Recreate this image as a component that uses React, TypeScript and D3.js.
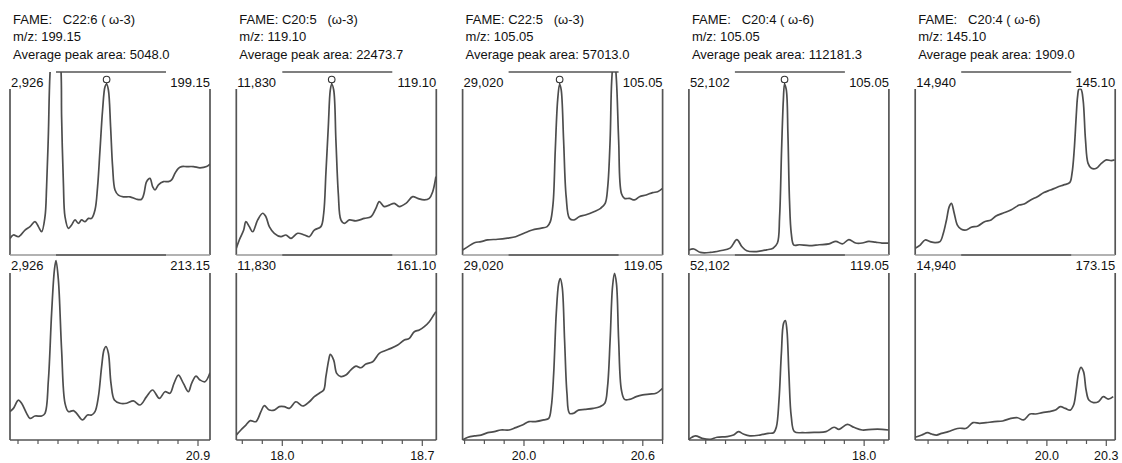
import * as d3 from 'd3';

type Pt = [number, number];

// header texts, one entry per FAME panel
const fameLabels = ['FAME:   C22:6 ( ω-3)', 'FAME: C20:5   (ω-3)', 'FAME: C22:5   (ω-3)', 'FAME:   C20:4 ( ω-6)', 'FAME:   C20:4 ( ω-6)'];
const targetMz = ['199.15', '119.10', '105.05', '105.05', '145.10'];
const qualifierMz = ['213.15', '161.10', '119.05', '119.05', '173.15'];
const peakAreas = ['5048.0', '22473.7', '57013.0', '112181.3', '1909.0'];
const fullScale = ['2,926', '11,830', '29,020', '52,102', '14,940'];

// retention time windows (min) and labelled ticks
const timeWindows: Pt[] = [[19.96, 20.96], [17.77, 18.77], [19.69, 20.7], [17.115, 18.125], [19.335, 20.345]];
const timeLabels = [['20.9'], ['18.0', '18.7'], ['20.0', '20.6'], ['18.0'], ['20.0', '20.3']];
const markedPeaks = [20.443, 18.247, 20.18, 17.598, null];

// traces: [time (min), intensity (% of full scale)]
const c226Target: Pt[] = [[19.96,9.7],[19.977,11.7],[20.002,10.7],[20.035,14.6],[20.06,16.6],[20.085,19.5],[20.102,16.6],[20.118,13.6],[20.135,22.4],[20.143,40],[20.152,71],[20.16,106],[20.187,150],[20.215,108],[20.218,81],[20.227,42],[20.235,22.4],[20.252,15.6],[20.268,17.5],[20.285,20.5],[20.302,18.5],[20.318,20.5],[20.335,19.5],[20.352,21.4],[20.368,21.4],[20.385,26.3],[20.398,40],[20.41,61.4],[20.423,84.8],[20.435,98.4],[20.443,100],[20.452,96.5],[20.463,75],[20.473,51.7],[20.485,38],[20.502,35],[20.527,34],[20.56,34],[20.593,32.6],[20.618,32.6],[20.63,36],[20.643,42.9],[20.66,44.8],[20.673,40],[20.685,38],[20.702,41],[20.727,42.9],[20.752,42.9],[20.768,43.9],[20.785,47.8],[20.802,50.7],[20.818,51.7],[20.843,51.7],[20.877,51.7],[20.91,51],[20.943,51.7],[20.96,53.2]];
const c226Qual: Pt[] = [[19.96,16.7],[19.977,18.6],[20.002,23.5],[20.018,21.6],[20.043,15.7],[20.06,12.7],[20.085,14.1],[20.118,14.1],[20.135,15.7],[20.152,35.3],[20.168,74.5],[20.182,100],[20.19,105.5],[20.202,94],[20.218,53],[20.235,21.6],[20.252,16.7],[20.277,17.3],[20.293,15.7],[20.323,11.8],[20.347,14.7],[20.368,14.7],[20.385,16.7],[20.402,25.5],[20.418,43],[20.43,53],[20.44,55],[20.452,51],[20.465,33.3],[20.482,23.5],[20.51,21.6],[20.543,21.6],[20.577,23],[20.61,20.6],[20.643,25.5],[20.673,29.4],[20.707,24.5],[20.735,28.4],[20.76,27.5],[20.78,33.3],[20.802,38.2],[20.827,33.3],[20.852,28.4],[20.868,33.3],[20.89,37.6],[20.91,35.3],[20.935,34.3],[20.96,39.6]];

const c205Target: Pt[] = [[17.77,3.9],[17.785,8.8],[17.807,14.6],[17.818,19.5],[17.835,16.6],[17.852,13.6],[17.877,20.5],[17.902,24.4],[17.918,22.4],[17.935,16.6],[17.96,12.7],[17.993,10.7],[18.018,11.7],[18.043,9.7],[18.077,12.7],[18.11,11.7],[18.135,10.7],[18.16,14.6],[18.193,16.6],[18.207,24.4],[18.218,47.8],[18.23,75],[18.24,96.5],[18.247,100],[18.257,96.5],[18.268,67.3],[18.28,36],[18.293,20.5],[18.31,18.5],[18.335,20.5],[18.368,20],[18.41,21.4],[18.443,22.4],[18.468,27.3],[18.485,31.2],[18.51,28.3],[18.535,29.2],[18.56,30.2],[18.585,28.3],[18.618,30.2],[18.652,34.1],[18.677,33.1],[18.71,32.2],[18.735,33.1],[18.752,37],[18.768,45.8]];
const c205Qual: Pt[] = [[17.77,2.9],[17.793,5.9],[17.818,8.8],[17.84,11.4],[17.868,10.8],[17.893,16.7],[17.91,20.2],[17.935,17.6],[17.96,17.6],[17.985,19.6],[18.01,19.6],[18.035,18.6],[18.068,22.5],[18.102,20],[18.135,22.5],[18.16,25.5],[18.185,27.5],[18.207,29.4],[18.218,37.3],[18.232,47],[18.24,50.4],[18.257,47],[18.272,39.2],[18.293,37.3],[18.318,38.2],[18.343,41.2],[18.368,43.5],[18.393,42.5],[18.418,44.7],[18.452,46],[18.485,51],[18.51,52.4],[18.543,53.9],[18.577,55.9],[18.61,58.8],[18.635,59.8],[18.66,63.7],[18.685,64.7],[18.71,66.7],[18.735,69.6],[18.757,73.5],[18.768,75.5]];

const c225Target: Pt[] = [[19.69,2.9],[19.717,4.9],[19.75,7.2],[19.783,7.8],[19.817,8.8],[19.867,9.2],[19.917,9.9],[19.958,10.7],[20.0,12.7],[20.042,14.6],[20.083,15.6],[20.117,16.6],[20.133,19.5],[20.147,30.2],[20.158,61.4],[20.17,90.6],[20.18,100],[20.188,96.5],[20.2,67.3],[20.213,34.1],[20.23,21.4],[20.253,20.5],[20.278,22.4],[20.31,23.4],[20.353,25.3],[20.387,27.3],[20.41,30.2],[20.423,40],[20.435,67.3],[20.443,102],[20.455,118],[20.467,102],[20.478,67.3],[20.492,36],[20.508,33.1],[20.533,33.1],[20.558,32.2],[20.583,34.1],[20.617,35.1],[20.65,36.5],[20.675,37],[20.7,39]];
const c225Qual: Pt[] = [[19.69,0],[19.717,1.6],[19.75,2.4],[19.783,2.9],[19.817,4.3],[19.85,4.9],[19.883,5.9],[19.925,5.9],[19.958,7.3],[19.992,8.8],[20.025,10.8],[20.058,10.8],[20.1,11.8],[20.125,12.7],[20.138,19.6],[20.15,39.2],[20.163,74.5],[20.175,92],[20.183,95],[20.193,90],[20.205,58.8],[20.217,27.5],[20.23,15.7],[20.25,15.7],[20.275,17.6],[20.308,18],[20.35,18.6],[20.383,19.6],[20.408,21.6],[20.422,31.4],[20.435,58.8],[20.447,90],[20.457,98],[20.467,92],[20.478,58.8],[20.492,29.4],[20.508,23.9],[20.533,23.9],[20.567,25.5],[20.6,26.5],[20.633,27],[20.667,27.5],[20.7,30.4]];

const c204Target: Pt[] = [[17.115,3],[17.14,3.5],[17.173,1.5],[17.223,1.5],[17.273,2.5],[17.323,4],[17.357,9],[17.382,5],[17.407,2.5],[17.457,2],[17.507,3],[17.54,4],[17.562,7],[17.573,22.4],[17.583,61.4],[17.592,90.6],[17.598,100],[17.607,96.5],[17.615,71],[17.623,32],[17.632,12.7],[17.645,5.8],[17.673,6],[17.723,5.5],[17.773,6],[17.823,6.5],[17.857,8],[17.89,6.5],[17.923,9],[17.957,7],[17.99,7],[18.023,8],[18.057,7.5],[18.09,7],[18.123,7]];
const c204Qual: Pt[] = [[17.115,0.4],[17.148,2.4],[17.182,1],[17.223,0.4],[17.257,1.6],[17.307,2],[17.34,2.9],[17.365,4.9],[17.39,3.5],[17.423,2.4],[17.473,2.9],[17.515,3.9],[17.543,4.3],[17.557,7.8],[17.57,23.5],[17.582,51],[17.593,68.6],[17.602,70.2],[17.61,64.7],[17.62,39.2],[17.632,13.7],[17.648,4.9],[17.69,4.3],[17.757,4.5],[17.807,4.9],[17.848,7.5],[17.873,6.3],[17.915,9.2],[17.948,7.5],[17.99,5.9],[18.04,6.3],[18.09,6.3],[18.123,5.9]];

const c204bTarget: Pt[] = [[19.335,3.9],[19.36,5.8],[19.385,8.8],[19.41,7.8],[19.435,7.2],[19.46,7.8],[19.477,12.7],[19.493,20.5],[19.507,28.3],[19.518,30.2],[19.532,24.4],[19.548,17.5],[19.568,15],[19.593,14.6],[19.618,16.2],[19.652,17],[19.685,19.5],[19.718,20.5],[19.743,22.8],[19.777,24.4],[19.818,26.3],[19.86,29.2],[19.885,29.8],[19.918,32.2],[19.952,34.1],[19.985,36.5],[20.018,38],[20.052,39.6],[20.085,41],[20.115,42.3],[20.127,47.8],[20.138,61.4],[20.148,80.9],[20.155,92.6],[20.162,97],[20.172,97],[20.183,90.6],[20.195,67.3],[20.208,53.6],[20.225,50.7],[20.25,50.7],[20.275,53.6],[20.3,55.6],[20.325,55.2],[20.342,55.6]];
const c204bQual: Pt[] = [[19.335,1.6],[19.368,2.9],[19.398,4.3],[19.418,3.5],[19.443,2.9],[19.468,3.9],[19.502,4.9],[19.535,6.3],[19.56,6.9],[19.593,6.9],[19.627,10.2],[19.66,9.8],[19.693,10.2],[19.735,10.8],[19.777,11.2],[19.818,12.7],[19.852,13.1],[19.882,11.8],[19.915,15.3],[19.943,15.3],[19.977,16.1],[20.01,16.7],[20.043,17.6],[20.068,19.6],[20.093,18.6],[20.118,17.6],[20.135,20.6],[20.148,29.4],[20.16,39.2],[20.172,42.7],[20.185,40.2],[20.198,29.4],[20.212,23.5],[20.235,22],[20.26,22.5],[20.285,25.5],[20.31,24],[20.335,25.5]];

const targetTraces = [c226Target, c205Target, c225Target, c204Target, c204bTarget];
const qualTraces = [c226Qual, c205Qual, c225Qual, c204Qual, c204bQual];

const W = 1122;
const H = 463;
const font = '"Liberation Sans", Arial, sans-serif';
const ink = '#4d4d4d';

function Panel({ i }: { i: number }) {
  const left = 10 + i * 226.3;
  const right = left + 200;
  const upTop = 72, upBottom = 255, upFull = 84;
  const loTop = 256, loBottom = 440, loFull = 270;

  const x = d3.scaleLinear().domain(timeWindows[i]).range([left, right]);
  const yUp = d3.scaleLinear().domain([0, 100]).range([upBottom, upFull]);
  const yLo = d3.scaleLinear().domain([0, 100]).range([loBottom, loFull]);

  const curve = d3.curveCatmullRom.alpha(0.5);
  const lineUp = d3.line<Pt>().x(d => x(d[0])).y(d => yUp(d[1])).curve(curve);
  const lineLo = d3.line<Pt>().x(d => x(d[0])).y(d => yLo(d[1])).curve(curve);

  const ticks = x.ticks(10);
  const fmt = d3.format('.1f');
  const marked = markedPeaks[i];

  const headStyle = { fontFamily: font, fontSize: 13, whiteSpace: 'pre' as const };
  const labelStyle = { fontFamily: font, fontSize: 13, fill: '#111', stroke: '#fff', strokeWidth: 3, paintOrder: 'stroke' as const };

  return (
    <g>
      <defs>
        <clipPath id={`up${i}`}><rect x={left} y={upTop} width={right - left} height={upBottom - upTop} /></clipPath>
        <clipPath id={`lo${i}`}><rect x={left} y={loTop} width={right - left} height={loBottom - loTop} /></clipPath>
      </defs>

      {/* header */}
      <g fill="#111">
        <text x={left + 3} y={24} xmlSpace="preserve" style={headStyle}>{fameLabels[i]}</text>
        <text x={left + 3} y={41} style={headStyle}>{`m/z: ${targetMz[i]}`}</text>
        <text x={left + 3} y={59} style={headStyle}>{`Average peak area: ${peakAreas[i]}`}</text>
      </g>

      {/* frames */}
      <g stroke="#555" strokeWidth={1.7} fill="none">
        <line x1={left + 46} x2={right - 44} y1={upTop} y2={upTop} />
        <line x1={left} x2={left} y1={89} y2={upBottom} />
        <line x1={right} x2={right} y1={89} y2={upBottom} />
        <line x1={left} x2={right} y1={upBottom} y2={upBottom} stroke="#999" />
        <line x1={left + 46} x2={right - 44} y1={upBottom} y2={upBottom} />
        <line x1={left} x2={left} y1={273} y2={loBottom} />
        <line x1={right} x2={right} y1={273} y2={loBottom} />
        <line x1={left} x2={right} y1={loBottom} y2={loBottom} />
      </g>

      {/* traces */}
      <path d={lineUp(targetTraces[i]) ?? ''} clipPath={`url(#up${i})`} fill="none" stroke={ink} strokeWidth={1.7} />
      <path d={lineLo(qualTraces[i]) ?? ''} clipPath={`url(#lo${i})`} fill="none" stroke={ink} strokeWidth={1.7} />

      {marked !== null && (
        <g stroke="#333" fill="#fff" strokeWidth={1.1}>
          <line x1={x(marked)} x2={x(marked)} y1={yUp(100) - 4} y2={yUp(100)} />
          <circle cx={x(marked)} cy={yUp(100) - 4.5} r={3.3} />
        </g>
      )}

      {/* corner labels */}
      <text x={left + 1} y={87} style={labelStyle}>{fullScale[i]}</text>
      <text x={right} y={87} textAnchor="end" style={labelStyle}>{targetMz[i]}</text>
      <text x={left + 1} y={270} style={labelStyle}>{fullScale[i]}</text>
      <text x={right} y={270} textAnchor="end" style={labelStyle}>{qualifierMz[i]}</text>

      {/* time axis */}
      {ticks.map(t => {
        const lab = timeLabels[i].includes(fmt(t));
        return (
          <g key={t} transform={`translate(${x(t)},${loBottom})`}>
            <line y1={0} y2={lab ? 6 : 4} stroke="#555" strokeWidth={1.2} />
            {lab && (
              <text y={20} textAnchor="middle" style={{ fontFamily: font, fontSize: 12.5 }} fill="#111">{fmt(t)}</text>
            )}
          </g>
        );
      })}
    </g>
  );
}

export default function App() {
  return (
    <div style={{ position: 'absolute', left: 0, top: 0, width: W, height: H, background: '#fff' }}>
      <svg width={W} height={H} viewBox={`0 0 ${W} ${H}`}>
        <rect width={W} height={H} fill="#fff" />
        {fameLabels.map((_, i) => <Panel key={i} i={i} />)}
      </svg>
    </div>
  );
}
